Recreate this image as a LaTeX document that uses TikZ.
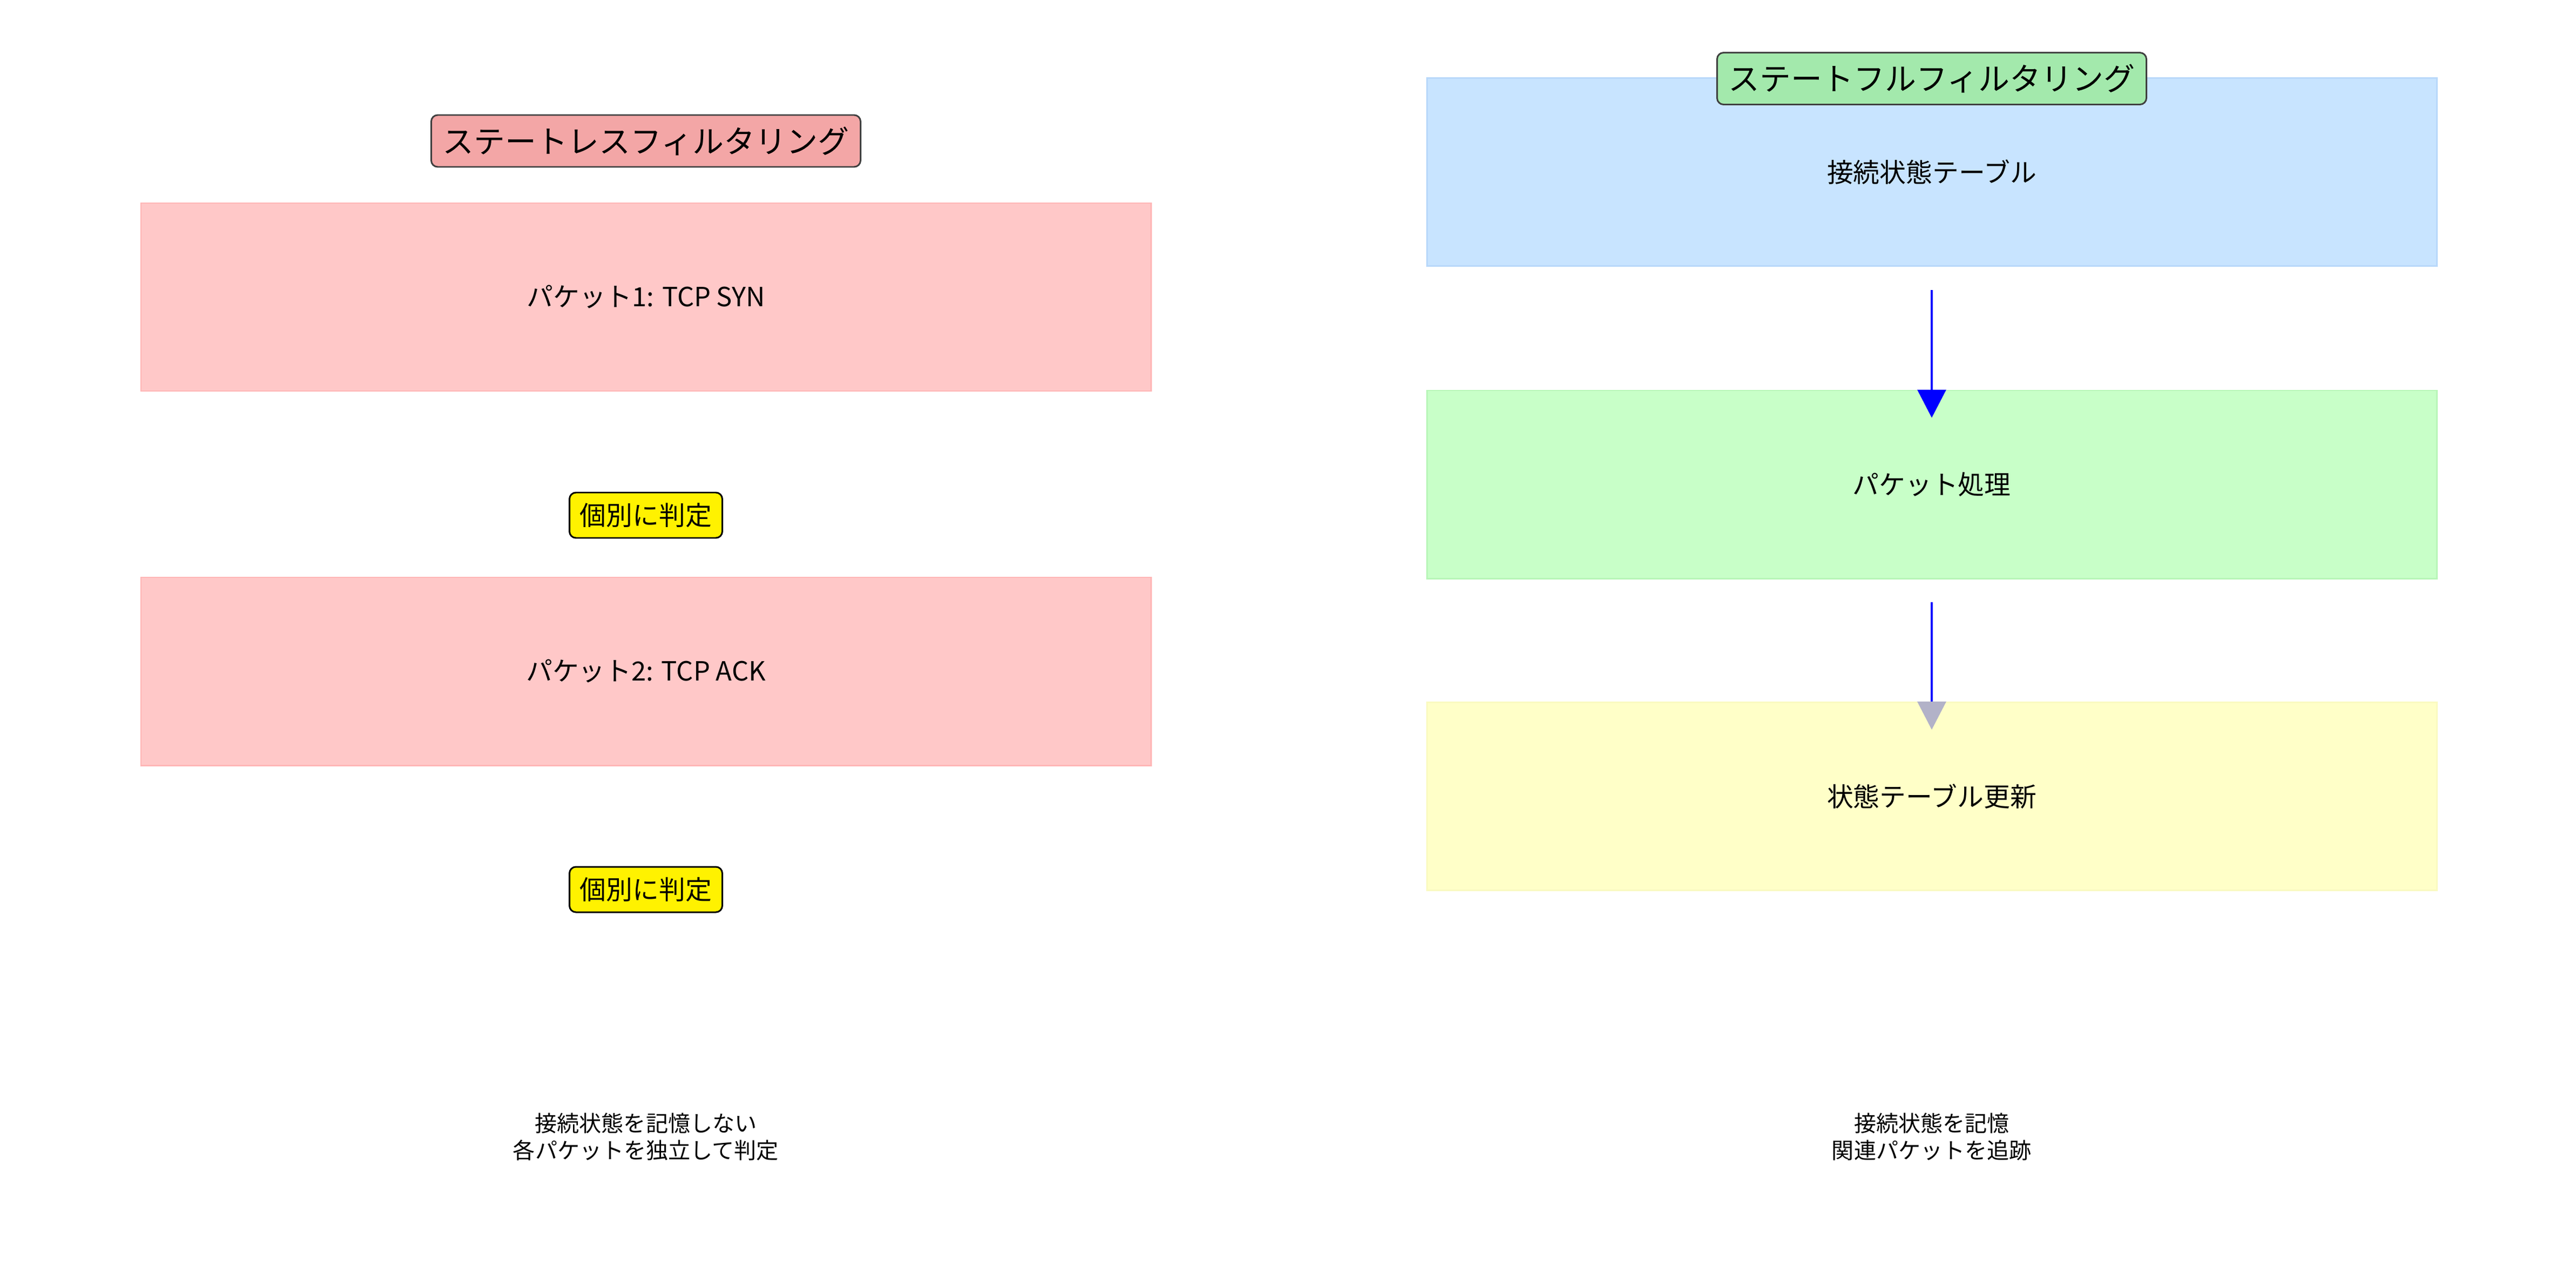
\documentclass[tikz,border=0pt]{standalone}
\usepackage{fontspec}
\setmainfont{Noto Sans CJK JP}
\usepackage{xcolor}
\usepackage{tikz}
\usetikzlibrary{arrows.meta}

\definecolor{pinkfill}{RGB}{255,200,200}
\definecolor{pinkline}{RGB}{255,182,182}
\definecolor{bluefill}{RGB}{200,228,255}
\definecolor{blueline}{RGB}{184,216,250}
\definecolor{greenfill}{RGB}{200,255,200}
\definecolor{greenline}{RGB}{184,246,184}
\definecolor{yellowfill}{RGB}{255,255,200}
\definecolor{yellowline}{RGB}{250,250,192}
\definecolor{redtitle}{RGB}{243,166,166}
\definecolor{greentitle}{RGB}{163,233,172}
\definecolor{tipgray}{RGB}{178,178,200}

\tikzset{
    box/.style={draw=#1line, fill=#1fill, line width=0.85pt, inner sep=0pt,
        minimum width=18.7cm, minimum height=3.48cm,
        font=\fontsize{13.9}{16}\selectfont},
    heading/.style={draw=black!75, fill=#1, rounded corners=0.12cm, line width=0.85pt,
        inner sep=0pt, minimum width=7.95cm, minimum height=0.96cm,
        font=\fontsize{16.5}{18}\selectfont},
    judge/.style={draw=black, fill=yellow, rounded corners=0.12cm, line width=0.85pt,
        inner sep=0pt, minimum width=2.83cm, minimum height=0.84cm,
        font=\fontsize{13.9}{16}\selectfont},
    note/.style={align=center, font=\fontsize{11.7}{14.2}\selectfont},
    flow/.style={draw=blue, line width=0.94pt, shorten <=0.43cm, shorten >=-0.52cm}
}

\begin{document}
\begin{tikzpicture}
    \useasboundingbox (0, 0) rectangle (47.7, -23.7);

    % stateless
    \node[heading=redtitle] (sl) at (11.96, -2.61) {ステートレスフィルタリング};
    \node[box=pink] (s1) at (11.96, -5.50) {パケット1: TCP SYN};
    \node[judge] (j1) at (11.96, -9.54) {個別に判定};
    \node[box=pink] (s2) at (11.96, -12.43) {パケット2: TCP ACK};
    \node[judge] (j2) at (11.96, -16.47) {個別に判定};
    \node[note] (sn) at (11.96, -21.05) {接続状態を記憶しない\\各パケットを独立して判定};

    % stateful
    \node[box=blue] (f1) at (35.77, -3.185) {接続状態テーブル};
    \node[heading=greentitle] (sf) at (35.77, -1.455) {ステートフルフィルタリング};
    \node[box=green] (f2) at (35.77, -8.97) {パケット処理};
    \node[box=yellow] (f3) at (35.77, -14.745) {状態テーブル更新};
    \node[note] (fn) at (35.77, -21.05) {接続状態を記憶\\関連パケットを追跡};

    \draw[flow, -{Triangle[width=0.53cm, length=0.52cm]}] (f1) -- (f2);
    \draw[flow, -{Triangle[width=0.53cm, length=0.52cm, color=tipgray]}] (f2) -- (f3);
\end{tikzpicture}
\end{document}
